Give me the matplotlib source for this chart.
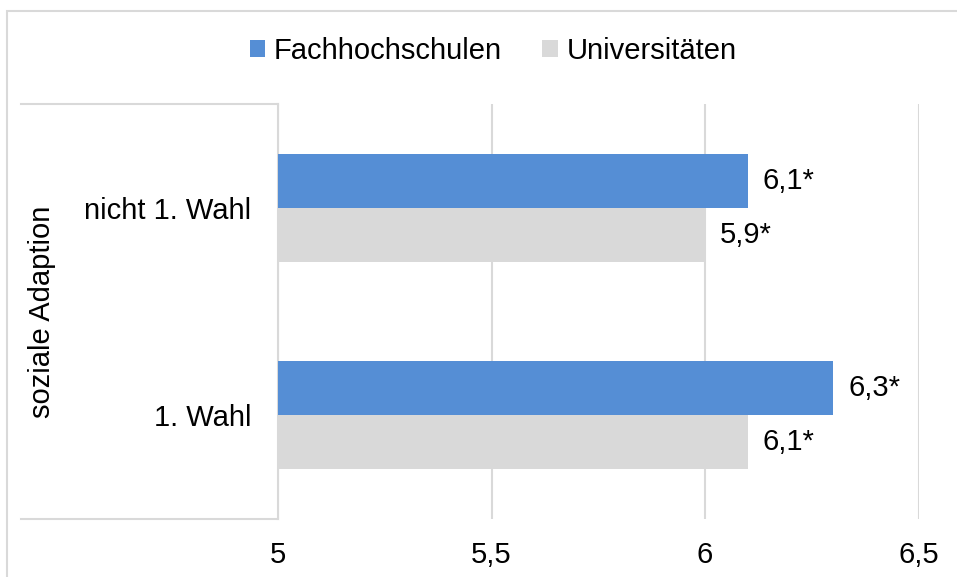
import matplotlib
matplotlib.use("Agg")
import matplotlib.pyplot as plt
from matplotlib.lines import Line2D
from matplotlib.patches import Rectangle

plt.rcParams['font.family'] = ['Liberation Sans', 'DejaVu Sans']

# ---- data ----
categories = ["1. Wahl", "nicht 1. Wahl"]
group_label = "soziale Adaption"
series_names = ["Fachhochschulen", "Universitäten"]
fh_values = [6.3, 6.1]
uni_values = [6.1, 6.0]
fh_labels = ["6,3*", "6,1*"]
uni_labels = ["6,1*", "5,9*"]
x_ticks = [5, 5.5, 6, 6.5]
x_tick_labels = ["5", "5,5", "6", "6,5"]

blue = "#558ED5"
gray = "#D9D9D9"
line_gray = "#D9D9D9"
FS = 21

W, H = 957, 577
fig = plt.figure(figsize=(W / 100, H / 100), dpi=100)

def fx(px):
    return px / W

def fy(py):
    return 1 - py / H

ax = fig.add_axes([fx(278), fy(519), fx(918.5) - fx(278), fy(104) - fy(519)])

bh = 0.26
ypos = list(range(len(categories)))
ax.barh([y + bh / 2 for y in ypos], fh_values, height=bh, color=blue, label=series_names[0], zorder=3)
ax.barh([y - bh / 2 for y in ypos], uni_values, height=bh, color=gray, label=series_names[1], zorder=3)

for y, v, t in zip(ypos, fh_values, fh_labels):
    ax.annotate(t, xy=(v, y + bh / 2), xytext=(11, 0), textcoords="offset points",
                ha="left", va="center", fontsize=FS, color="#000000")
for y, v, t in zip(ypos, uni_values, uni_labels):
    ax.annotate(t, xy=(v, y - bh / 2), xytext=(11, 0), textcoords="offset points",
                ha="left", va="center", fontsize=FS, color="#000000")

ax.set_xlim(5, 6.5)
ax.set_ylim(-0.5, len(categories) - 0.5)
ax.set_xticks(x_ticks)
ax.set_xticklabels(x_tick_labels, fontsize=FS)
ax.set_yticks(ypos)
ax.set_yticklabels(categories, fontsize=FS)
ax.tick_params(axis="both", length=0)
ax.tick_params(axis="x", pad=16)
ax.tick_params(axis="y", pad=19)
ax.grid(axis="x", color=line_gray, linewidth=1.5, zorder=0)
ax.set_axisbelow(True)
for s in ["top", "right", "bottom"]:
    ax.spines[s].set_visible(False)
ax.spines["left"].set_color(line_gray)
ax.spines["left"].set_linewidth(1.5)

# group label
fig.text(fx(42), fy(311.5), group_label, rotation=90, ha="center", va="center", fontsize=FS)

# category box lines
for py in (104, 519):
    fig.add_artist(Line2D([fx(21), fx(278)], [fy(py), fy(py)], transform=fig.transFigure,
                          color=line_gray, linewidth=1.5))

# outer chart frame
fig.add_artist(Rectangle((fx(7), fy(H + 20)), fx(W + 20), fy(11) - fy(H + 20),
                         transform=fig.transFigure, fill=False, edgecolor=line_gray, linewidth=1.5))

# legend
fig.legend(loc="center", bbox_to_anchor=(fx(493), fy(51)), ncol=2, frameon=False,
           fontsize=FS, handlelength=0.52, handleheight=0.52, handletextpad=0.3,
           columnspacing=1.4, borderaxespad=0, borderpad=0)

fig.savefig("out.png", dpi=100)
